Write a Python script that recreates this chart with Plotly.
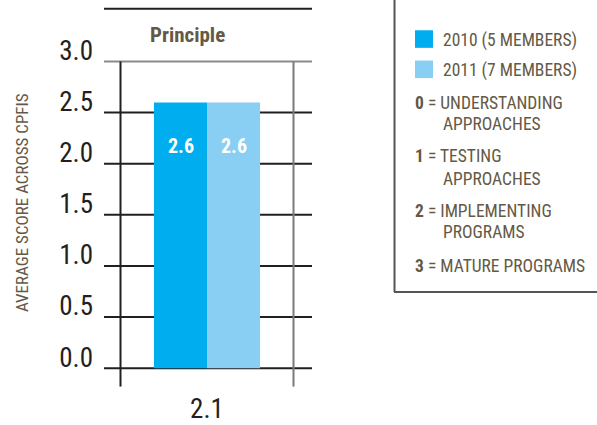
import plotly.graph_objects as go

categories = ["2.1"]
series_names = ["2010 (5 MEMBERS)", "2011 (7 MEMBERS)"]
values_2010 = [2.6]
values_2011 = [2.6]
series_colors = ["#00AEEF", "#88CFF3"]
y_ticks = [0.0, 0.5, 1.0, 1.5, 2.0, 2.5, 3.0]
y_tick_labels = ["0.0", "0.5", "1.0", "1.5", "2.0", "2.5", "3.0"]
legend_notes = [
    ("0", "UNDERSTANDING", "APPROACHES"),
    ("1", "TESTING", "APPROACHES"),
    ("2", "IMPLEMENTING", "PROGRAMS"),
    ("3", "MATURE PROGRAMS", None),
]
title_text = "Principle"
y_title = "AVERAGE SCORE ACROSS CPFIS"

W, H = 597, 425
FONT = "Roboto Condensed"
BROWN = "#645946"

def px(x):
    return x / W

def py(y):
    return 1 - y / H

# y range mapping: 0 -> 377px, 3 -> 63px
unit = (377 - 63) / 3.0
y_bot_px, y_top_px = 396, 9
y_min = -(y_bot_px - 377) / unit
y_max = (377 - y_top_px) / unit

fig = go.Figure()
for name, vals, col in zip(series_names, [values_2010, values_2011], series_colors):
    fig.add_trace(go.Bar(x=categories, y=vals, name=name, marker=dict(color=col, line=dict(width=0)),
                         showlegend=False, hoverinfo="skip"))

fig.update_layout(
    width=W, height=H,
    margin=dict(l=0, r=0, t=0, b=0),
    paper_bgcolor="white", plot_bgcolor="rgba(0,0,0,0)",
    barmode="group", bargap=0.48, bargroupgap=0,
    font=dict(family=FONT, color="#231f20"),
    xaxis=dict(type="category", domain=[px(105), px(309)], range=[-0.5, 0.5], showgrid=False, zeroline=False,
               showline=False, ticks="", ticklabelstandoff=3, tickfont=dict(size=27, color="#231f20")),
    yaxis=dict(domain=[py(y_bot_px), py(y_top_px)], range=[y_min, y_max], showgrid=False,
               zeroline=False, showline=False, tickvals=y_ticks, ticktext=y_tick_labels,
               ticks="", ticklabelstandoff=11, ticklabelshift=-11,
               tickfont=dict(size=27, color="#231f20")),
)

shapes = []
# horizontal gridlines
for v in y_ticks:
    col = "#8a8a8a" if v == 3.0 else "#231f20"
    shapes.append(dict(type="line", xref="paper", yref="y", x0=px(104), x1=px(312), y0=v, y1=v,
                       line=dict(color=col, width=2), layer="below"))
# top line
shapes.append(dict(type="line", xref="paper", yref="paper", x0=px(104), x1=px(312), y0=py(9), y1=py(9),
                   line=dict(color="#231f20", width=2)))
# vertical lines
shapes.append(dict(type="line", xref="paper", yref="y", x0=px(120.5), x1=px(120.5), y0=y_min, y1=3.0,
                   line=dict(color="#231f20", width=2), layer="below"))
shapes.append(dict(type="line", xref="paper", yref="y", x0=px(293.5), x1=px(293.5), y0=y_min, y1=3.0,
                   line=dict(color="#7a7a7a", width=2), layer="below"))
# legend box
shapes.append(dict(type="line", xref="paper", yref="paper", x0=px(394.5), x1=px(394.5), y0=py(0), y1=py(299),
                   line=dict(color="#555555", width=2)))
shapes.append(dict(type="line", xref="paper", yref="paper", x0=px(394), x1=px(597), y0=py(299), y1=py(299),
                   line=dict(color="#555555", width=2)))
# legend squares
for i, col in enumerate(series_colors):
    yc = 40 + i * 31
    shapes.append(dict(type="rect", xref="paper", yref="paper", x0=px(415), x1=px(433),
                       y0=py(yc + 9), y1=py(yc - 9), fillcolor=col, line=dict(width=0)))

annotations = []
# title
annotations.append(dict(text="<b>" + title_text + "</b>", xref="paper", yref="paper", x=px(187), y=py(36),
                        xanchor="center", yanchor="middle",
                        showarrow=False, font=dict(size=21, color=BROWN, family=FONT)))
# y-axis title
annotations.append(dict(text=y_title, xref="paper", yref="paper", x=px(22), y=py(208), textangle=-90,
                        xanchor="center", yanchor="middle",
                        showarrow=False, font=dict(size=17, color=BROWN, family=FONT)))
# bar value labels
for vals, xs in zip([values_2010, values_2011], [-26.5, 26.5]):
    for ci, v in enumerate(vals):
        annotations.append(dict(text="<b>%.1f</b>" % v, x=ci, y=v, xref="x", yref="y", xshift=xs, yshift=-44,
                                xanchor="center", yanchor="middle",
                                showarrow=False, font=dict(size=20, color="white", family=FONT)))
# legend texts
for i, name in enumerate(series_names):
    yc = 41 + i * 31
    annotations.append(dict(text=name, xref="paper", yref="paper", x=px(441), y=py(yc), xanchor="left",
                            yanchor="middle",
                            showarrow=False, font=dict(size=17.5, color=BROWN, family=FONT)))
note_rows = [(105, 127), (160, 183), (216, 238), (272, None)]
for (num, l1, l2), (y1, y2) in zip(legend_notes, note_rows):
    annotations.append(dict(text="<b>" + num + "</b> = " + l1, xref="paper", yref="paper", x=px(413), y=py(y1),
                            xanchor="left", yanchor="middle",
                            showarrow=False, font=dict(size=17.5, color=BROWN, family=FONT)))
    if l2:
        annotations.append(dict(text=l2, xref="paper", yref="paper", x=px(441), y=py(y2),
                                xanchor="left", yanchor="middle",
                                showarrow=False, font=dict(size=17.5, color=BROWN, family=FONT)))

fig.update_layout(shapes=shapes, annotations=annotations)
fig.write_html("out.html", config={"displayModeBar": False},
               post_script="document.body.style.margin='0';")
